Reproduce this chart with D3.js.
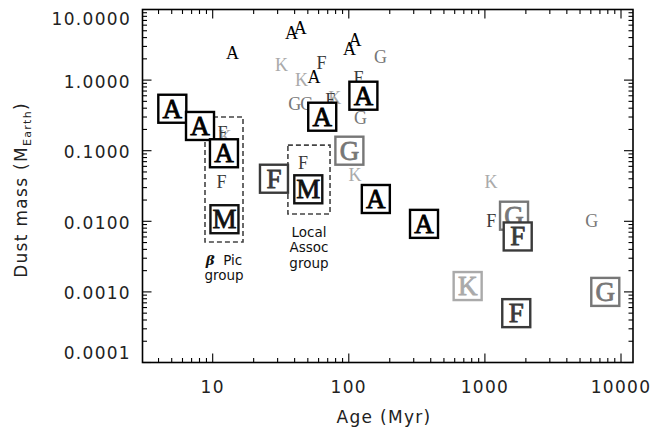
<!DOCTYPE html>
<html><head><meta charset="utf-8">
<script src="https://cdn.jsdelivr.net/npm/d3@7"></script>
<style>body{margin:0;background:#fff}svg{display:block}</style>
</head><body>
<svg id="c" width="656" height="428"></svg>
<script>
// ---- data ----
const ageTicks = [10, 100, 1000, 10000];
const massTicks = [10, 1, 0.1, 0.01, 0.001, 0.0001];
const smallType = ['K','K','K','K','K','K','F','F','F','F','F','F','F','G','G','G','G','G','A','A','A','A','A','A'];
const smallAge  = [32, 45, 79, 12.3, 111, 1110, 63, 118, 73, 11.8, 46, 11.6, 1113, 171, 40, 49, 122, 6100, 14, 38, 44, 101, 111, 55.5];
const smallMass = [1.64, 1.0, 0.55, 0.155, 0.045, 0.036, 1.73, 1.06, 0.52, 0.18, 0.066, 0.036, 0.0102, 2.1, 0.46, 0.46, 0.29, 0.0101, 2.44, 4.6, 5.4, 2.73, 3.7, 1.1];
const boxType = ['A','A','A','M','F','M','A','A','G','A','A','G','F','K','F','G'];
const boxAge  = [5.05, 8.07, 12.1, 12.2, 28.2, 50.4, 63.8, 128, 101, 158, 357, 1637, 1742, 747, 1700, 7665];
const boxMass = [0.393, 0.224, 0.092, 0.0107, 0.0401, 0.0284, 0.303, 0.601, 0.1, 0.0207, 0.0092, 0.012, 0.0061, 0.00121, 0.0005, 0.001];
const groupNames = ['βPic', 'Local'];
const groupAge = [[8.78, 16.7], [35.7, 72.8]];
const groupMass = [[0.30, 0.0051], [0.12, 0.0127]];
const typeColor = {A:'#000', M:'#111', F:'#3a3a3a', G:'#777', K:'#aaa'};

// ---- scales ----
const L = 142.5, R = 633, T = 9.5, B = 362.5;
const x = d3.scaleLog().domain([3.05, 12250]).range([L, R]);
const y = d3.scaleLog().domain([0.0001, 10]).range([B, T]);
const svg = d3.select('#c');
const sans = 'DejaVu Sans, sans-serif';
const serif = 'Liberation Serif, Times New Roman, serif';

// ---- group dashed boxes ----
groupAge.forEach((a, i) => {
  const m = groupMass[i];
  svg.append('rect')
    .attr('x', x(a[0])).attr('y', y(m[0]))
    .attr('width', x(a[1]) - x(a[0])).attr('height', y(m[1]) - y(m[0]))
    .attr('fill', 'none').attr('stroke', '#444').attr('stroke-width', 1.6)
    .attr('stroke-dasharray', '5,3');
});

// ---- small letters ----
svg.append('g').selectAll('text').data(smallType.map((t, i) => ({t, a: smallAge[i], m: smallMass[i]})))
  .join('text')
  .attr('x', d => x(d.a)).attr('y', d => y(d.m) + 6)
  .attr('text-anchor', 'middle')
  .attr('font-family', serif).attr('font-size', 18)
  .attr('fill', d => typeColor[d.t])
  .text(d => d.t);

// ---- boxed letters ----
const bx = svg.append('g').selectAll('g').data(boxType.map((t, i) => ({t, a: boxAge[i], m: boxMass[i]})))
  .join('g').attr('transform', d => `translate(${x(d.a)},${y(d.m)})`);
bx.append('rect').attr('x', -14).attr('y', -14).attr('width', 28).attr('height', 28)
  .attr('fill', '#fff').attr('stroke', d => typeColor[d.t]).attr('stroke-width', 2.4);
bx.append('text').attr('y', 9).attr('text-anchor', 'middle')
  .attr('font-family', serif).attr('font-size', 27)
  .attr('stroke', d => typeColor[d.t]).attr('stroke-width', 0.8)
  .attr('fill', d => typeColor[d.t]).text(d => d.t);

// ---- group labels ----
const lab = svg.append('g').attr('font-family', sans).attr('font-size', 13.5).attr('fill', '#111').attr('text-anchor', 'middle');
const bp = lab.append('text').attr('x', x(Math.sqrt(groupAge[0][0]*groupAge[0][1]))).attr('y', 265);
bp.append('tspan').attr('font-weight', 'bold').attr('font-style', 'italic').attr('font-family', 'DejaVu Serif, serif').text('β');
bp.append('tspan').text('\u00a0 Pic');
lab.append('text').attr('x', x(Math.sqrt(groupAge[0][0]*groupAge[0][1]))).attr('y', 280).text('group');
['Local', 'Assoc', 'group'].forEach((s, i) => {
  lab.append('text').attr('x', x(Math.sqrt(groupAge[1][0]*groupAge[1][1]))).attr('y', 237 + i * 15.3).text(s);
});

// ---- axes (IDL style, inward ticks on all sides) ----
const ax = svg.append('g').attr('stroke', '#000');
ax.append('rect').attr('x', L).attr('y', T).attr('width', R - L).attr('height', B - T)
  .attr('fill', 'none').attr('stroke-width', 1.6);
const xMinor = [], yMinor = [];
for (let e = 0; e <= 4; e++) for (let k = 1; k < 10; k++) { const v = k * Math.pow(10, e); if (v >= 3.05 && v <= 12250) xMinor.push(v); }
for (let e = -4; e <= 0; e++) for (let k = 1; k < 10; k++) { const v = k * Math.pow(10, e); if (v >= 0.0001 && v <= 10) yMinor.push(v); }
xMinor.forEach(v => {
  const len = ageTicks.includes(v) ? 9 : 4.5, px = x(v);
  ax.append('line').attr('x1', px).attr('x2', px).attr('y1', B).attr('y2', B - len).attr('stroke-width', 1.1);
  ax.append('line').attr('x1', px).attr('x2', px).attr('y1', T).attr('y2', T + len).attr('stroke-width', 1.1);
});
yMinor.forEach(v => {
  const major = massTicks.some(t => Math.abs(t - v) / t < 1e-9);
  const len = major ? 9 : 4.5, py = y(v);
  ax.append('line').attr('y1', py).attr('y2', py).attr('x1', L).attr('x2', L + len).attr('stroke-width', 1.1);
  ax.append('line').attr('y1', py).attr('y2', py).attr('x1', R).attr('x2', R - len).attr('stroke-width', 1.1);
});

const tl = svg.append('g').attr('font-family', sans).attr('font-size', 17).attr('fill', '#222').attr('letter-spacing', 1.3);
ageTicks.forEach(v => tl.append('text').attr('x', x(v)).attr('y', 393).attr('text-anchor', 'middle').text(String(v)));
massTicks.forEach((v, i) => {
  let cy = y(v) + 1.5;
  if (i === 0) cy = 19; if (i === massTicks.length - 1) cy = 353;
  tl.append('text').attr('x', 131).attr('y', cy + 6).attr('text-anchor', 'end').text(v.toFixed(4));
});

// ---- titles ----
tl.append('text').attr('x', 384).attr('y', 423).attr('text-anchor', 'middle').text('Age (Myr)');
const yt = tl.append('text').attr('transform', 'translate(27,190) rotate(-90)').attr('text-anchor', 'middle');
yt.append('tspan').text('Dust mass (M');
yt.append('tspan').attr('font-size', 11).attr('dy', 4).text('Earth');
yt.append('tspan').attr('dy', -4).text(')');
</script>
</body></html>
